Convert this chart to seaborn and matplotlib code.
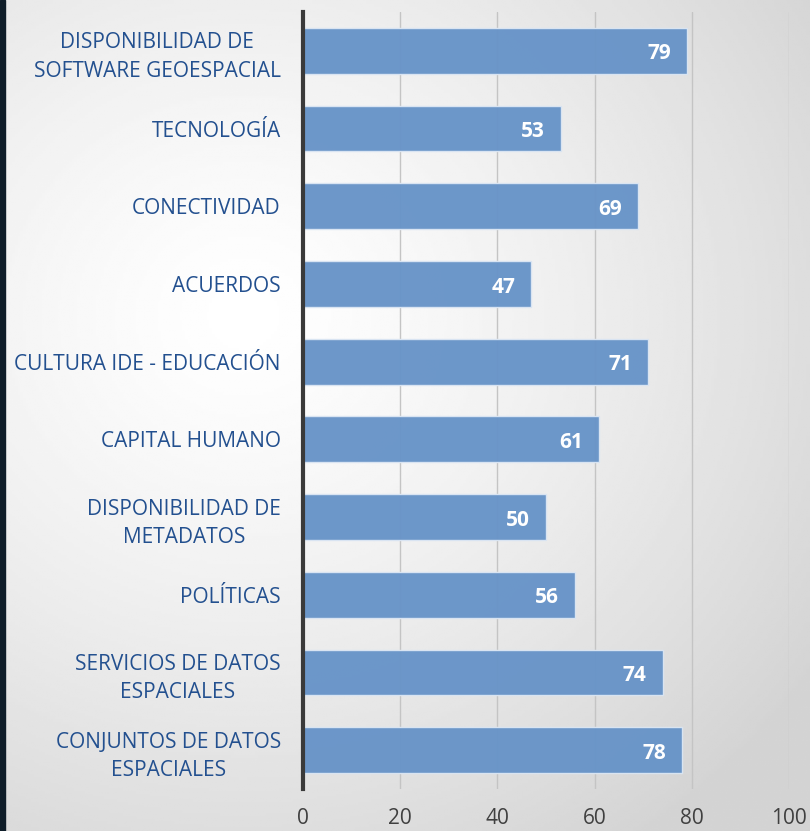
import matplotlib.pyplot as plt
import numpy as np
import pandas as pd
import seaborn as sns

# ---------------------------------------------------------------------------
# Data
# ---------------------------------------------------------------------------
categories = [
    "DISPONIBILIDAD DE\nSOFTWARE GEOESPACIAL",
    "TECNOLOGÍA",
    "CONECTIVIDAD",
    "ACUERDOS",
    "CULTURA IDE - EDUCACIÓN",
    "CAPITAL HUMANO",
    "DISPONIBILIDAD DE\nMETADATOS",
    "POLÍTICAS",
    "SERVICIOS DE DATOS\nESPACIALES",
    "CONJUNTOS DE DATOS\nESPACIALES",
]
values = [79, 53, 69, 47, 71, 61, 50, 56, 74, 78]
x_ticks = [0, 20, 40, 60, 80, 100]

BAR_COLOR = "#6894c8"
LABEL_COLOR = "#23508f"
TICK_COLOR = "#404040"

df = pd.DataFrame({"Category": categories, "Value": values})

sns.set_style("white")
plt.rcParams["font.family"] = ["Open Sans", "DejaVu Sans"]

fig = plt.figure(figsize=(8.10, 8.31), dpi=100)

# Soft radial background, light at the left-middle and greyer toward edges.
bg_ax = fig.add_axes([0, 0, 1, 1], zorder=-10)
yy, xx = np.mgrid[0:1:300j, 0:1:300j]
dist = np.sqrt(((xx - 0.3) / 1.0) ** 2 + ((yy - 0.62) / 0.9) ** 2)
shade = 1.0 - 0.17 * np.clip(dist / 0.85, 0, 1) ** 1.3
bg_ax.imshow(shade, cmap="gray", vmin=0, vmax=1, extent=[0, 1, 0, 1],
             aspect="auto", origin="lower")
bg_ax.axvspan(0, 0.006, color="#0f1d29")
bg_ax.set_xlim(0, 1)
bg_ax.set_ylim(0, 1)
bg_ax.axis("off")

ax = fig.add_axes([303 / 810, 42 / 831, 486 / 810, 777 / 831])
ax.patch.set_alpha(0)
sns.barplot(
    data=df,
    x="Value",
    y="Category",
    orient="h",
    color=BAR_COLOR,
    saturation=1,
    width=0.59,
    edgecolor="#dbe6f3",
    linewidth=1,
    alpha=0.97,
    ax=ax,
    zorder=3,
)

for i, v in enumerate(values):
    ax.text(v - 3.3, i + 0.04, str(v), ha="right", va="center", color="white",
            fontsize=15, fontweight="bold", zorder=5)

ax.set_xlim(0, 100)
ax.set_ylim(9.5, -0.5)
ax.set_xticks(x_ticks)
ax.set_xticklabels([str(t) for t in x_ticks], color=TICK_COLOR, fontsize=15)
ax.tick_params(axis="x", length=0, pad=14)
ax.tick_params(axis="y", length=0, pad=16)
for lbl in ax.get_yticklabels():
    lbl.set_color(LABEL_COLOR)
    lbl.set_fontsize(15)
    lbl.set_horizontalalignment("right")
    lbl.set_multialignment("center")
    lbl.set_linespacing(1.45)

ax.grid(axis="x", color="#c4c4c4", linewidth=1, zorder=0)
ax.set_axisbelow(True)
for side in ["top", "right", "bottom"]:
    ax.spines[side].set_visible(False)
ax.spines["left"].set_color("#3a3a3a")
ax.spines["left"].set_linewidth(3)
ax.spines["left"].set_zorder(6)
ax.set_xlabel("")
ax.set_ylabel("")

fig.savefig("out.png", dpi=100)
